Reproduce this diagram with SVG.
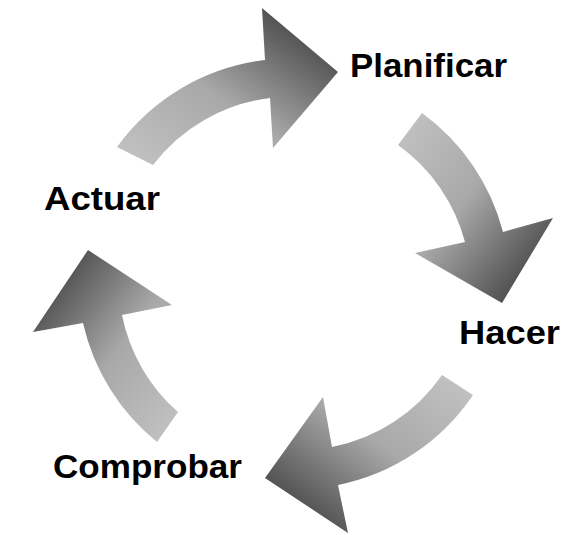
<svg xmlns="http://www.w3.org/2000/svg" width="572" height="535" viewBox="0 0 572 535">
<defs>
<linearGradient id="g1" x1="0" y1="1" x2="1" y2="0"><stop offset="0" stop-color="#c4c4c4"/><stop offset="0.45" stop-color="#a8a8a8"/><stop offset="1" stop-color="#2c2c2c"/></linearGradient>
<linearGradient id="g2" x1="0" y1="0" x2="1" y2="1"><stop offset="0" stop-color="#c4c4c4"/><stop offset="0.45" stop-color="#a8a8a8"/><stop offset="1" stop-color="#2c2c2c"/></linearGradient>
<linearGradient id="g3" x1="1" y1="0" x2="0" y2="1"><stop offset="0" stop-color="#c4c4c4"/><stop offset="0.45" stop-color="#a8a8a8"/><stop offset="1" stop-color="#2c2c2c"/></linearGradient>
<linearGradient id="g4" x1="1" y1="1" x2="0" y2="0"><stop offset="0" stop-color="#c4c4c4"/><stop offset="0.45" stop-color="#a8a8a8"/><stop offset="1" stop-color="#2c2c2c"/></linearGradient>
</defs>
<style>
.lbl{font-family:"Liberation Sans",Arial,sans-serif;font-weight:bold;font-size:34px;fill:#000}
</style>
<rect width="572" height="535" fill="#fff"/>
<g id="connectors">
<path fill="url(#g1)" d="M117,147 A213,213 0 0 1 265,60 L262,8 L338,72 L273,148 L270,98 A174,174 0 0 0 153,165 Z"/>
<path fill="url(#g2)" d="M422,113 A213,213 0 0 1 503,232 L553,218 L502,303 L415,253 L465,242 A174,174 0 0 0 398,145 Z"/>
<path fill="url(#g3)" d="M473,395 A213,213 0 0 1 338,485 L348,533 L265,478 L323,397 L332,447 A174,174 0 0 0 442,375 Z"/>
<path fill="url(#g4)" d="M157,442 A213,213 0 0 1 83,323 L33,332 L88,250 L172,305 L122,315 A174,174 0 0 0 178,412 Z"/>
</g>
<g id="planificar"><text class="lbl" x="350" y="77" textLength="157" lengthAdjust="spacingAndGlyphs">Planificar</text></g>
<g id="hacer"><text class="lbl" x="459" y="343.5" textLength="101" lengthAdjust="spacingAndGlyphs">Hacer</text></g>
<g id="comprobar"><text class="lbl" x="53" y="478" textLength="189" lengthAdjust="spacingAndGlyphs">Comprobar</text></g>
<g id="actuar"><text class="lbl" x="44" y="210" textLength="116" lengthAdjust="spacingAndGlyphs">Actuar</text></g>
</svg>
